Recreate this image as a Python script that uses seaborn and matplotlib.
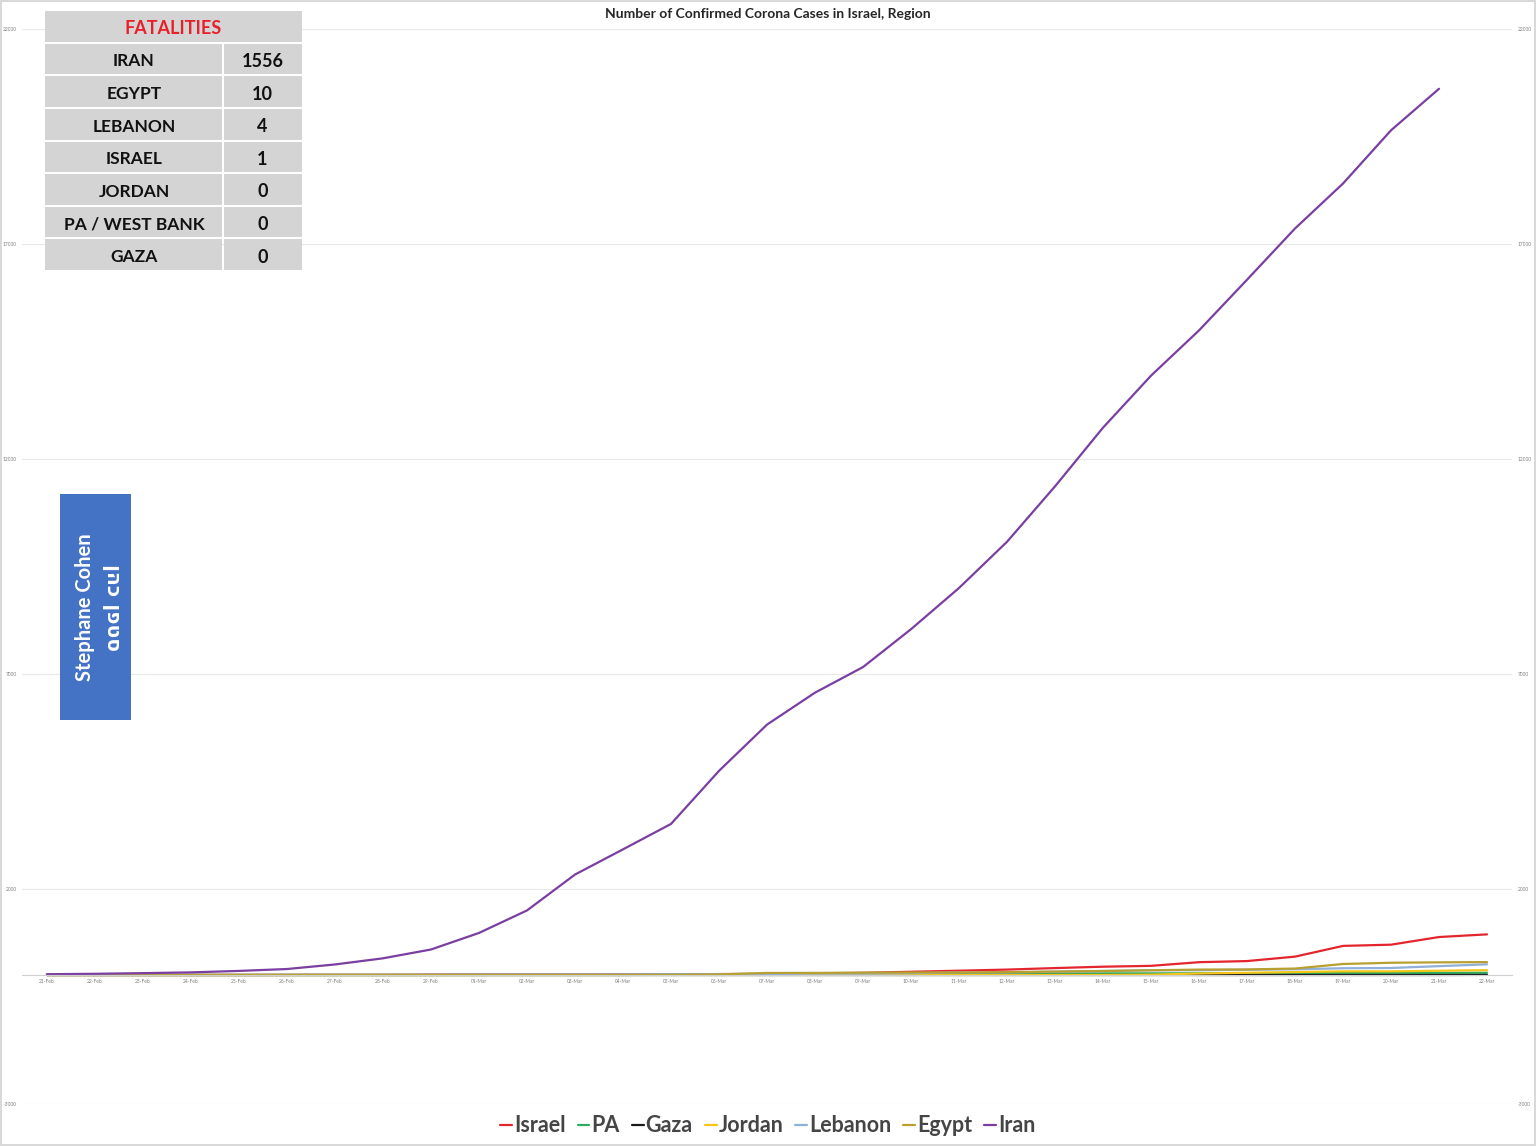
"""Confirmed corona cases in Israel and the region, 21-Feb to 22-Mar."""

import matplotlib.pyplot as plt
import numpy as np
import pandas as pd
import seaborn as sns
from matplotlib.patches import Rectangle

dates = [
    "21-Feb", "22-Feb", "23-Feb", "24-Feb", "25-Feb", "26-Feb", "27-Feb", "28-Feb", "29-Feb",
    "01-Mar", "02-Mar", "03-Mar", "04-Mar", "05-Mar", "06-Mar", "07-Mar", "08-Mar", "09-Mar",
    "10-Mar", "11-Mar", "12-Mar", "13-Mar", "14-Mar", "15-Mar", "16-Mar", "17-Mar", "18-Mar",
    "19-Mar", "20-Mar", "21-Mar", "22-Mar",
]
israel = [1, 1, 1, 1, 1, 2, 3, 3, 7, 10, 12, 12, 15, 17, 21, 25, 39, 50, 75, 100, 126, 161,
          193, 213, 298, 324, 427, 677, 705, 883, 945]
pa = [0, 0, 0, 0, 0, 0, 0, 0, 0, 0, 0, 0, 0, 7, 16, 19, 22, 25, 26, 30, 31, 35, 38, 38, 39,
      41, 44, 47, 48, 48, 52]
gaza = [0] * 30 + [2]
jordan = [0, 0, 0, 0, 0, 0, 0, 0, 0, 0, 1, 1, 1, 1, 1, 1, 1, 1, 1, 1, 1, 1, 1, 8, 34, 52,
          69, 85, 85, 99, 112]
lebanon = [1, 1, 1, 1, 1, 2, 2, 2, 4, 10, 13, 13, 13, 16, 22, 22, 32, 32, 41, 61, 61, 77, 93,
           110, 110, 120, 133, 157, 163, 206, 248]
egypt = [0, 0, 0, 0, 0, 0, 0, 0, 0, 2, 2, 2, 2, 3, 15, 48, 49, 55, 59, 59, 67, 80, 93, 110,
         126, 130, 150, 256, 285, 294, 300]
iran = [18, 28, 43, 61, 95, 139, 245, 388, 593, 978, 1501, 2336, 2922, 3513, 4747, 5823, 6566,
        7161, 8042, 9000, 10075, 11364, 12729, 13938, 14991, 16169, 17361, 18407, 19644, 20610,
        np.nan]

countries = ["Israel", "PA", "Gaza", "Jordan", "Lebanon", "Egypt", "Iran"]
colors = ["#E3262E", "#2FAE60", "#1A1A1A", "#F5C518", "#8FB0D8", "#B8A030", "#7A3FA0"]

fatality_countries = ["IRAN", "EGYPT", "LEBANON", "ISRAEL", "JORDAN", "PA / WEST BANK", "GAZA"]
fatality_counts = [1556, 10, 4, 1, 0, 0, 0]

y_ticks = [-3000, 2000, 7000, 12000, 17000, 22000]

series = [israel, pa, gaza, jordan, lebanon, egypt, iran]
df = pd.concat(
    [pd.DataFrame({"day": range(len(dates)), "cases": vals, "country": name})
     for name, vals in zip(countries, series)],
    ignore_index=True,
)

sns.set_style("white")
plt.rcParams["font.family"] = ["Lato", "DejaVu Sans"]

W, H = 1536, 1146
fig = plt.figure(figsize=(W / 100, H / 100), dpi=100)
fig.patch.set_edgecolor("#D9D9D9")
fig.patch.set_linewidth(1.5)

ax = fig.add_axes([22 / W, 1 - 1104 / H, 1490 / W, 1075 / H])
sns.lineplot(data=df, x="day", y="cases", hue="country", hue_order=countries,
             palette=colors, linewidth=1.6, ax=ax, legend=True)

ax.set_xlim(-0.52, len(dates) - 1 + 0.52)
ax.set_ylim(-3000, 22000)
ax.set_yticks(y_ticks)
ax.set_yticklabels([str(v) for v in y_ticks])
ax.set_xticks(range(len(dates)))
ax.set_xticklabels(dates)
ax.grid(axis="y", color="#E8E8E8", linewidth=0.8)
ax.set_axisbelow(True)
for side in ["top", "right", "left"]:
    ax.spines[side].set_visible(False)
ax.spines["bottom"].set_position(("data", 0))
ax.spines["bottom"].set_color("#D0D0D0")
ax.tick_params(axis="x", length=0, labelsize=3.5, labelcolor="#7F7F7F", pad=3)
ax.tick_params(axis="y", length=0, labelsize=3.5, labelcolor="#7F7F7F",
               labelleft=True, labelright=True, pad=4)
ax.set_xlabel("")
ax.set_ylabel("")

fig.text(0.5, 1 - 14 / H, "Number of Confirmed Corona Cases in Israel, Region",
         ha="center", va="center", fontsize=10, fontweight="bold", color="#262626")

handles, labels = ax.get_legend_handles_labels()
ax.legend_.remove()
fig.legend(handles, labels, loc="center", bbox_to_anchor=(0.5, 1 - 1126 / H), ncol=7,
           frameon=False, handlelength=0.55, handletextpad=0.1, columnspacing=0.55,
           prop={"size": 15.5, "weight": "bold"}, labelcolor="#454545")

# fatalities table
tab = fig.add_axes([45 / W, 1 - 272 / H, 257 / W, 261 / H])
tab.set_xlim(0, 257)
tab.set_ylim(261, 0)
tab.axis("off")
row_h = 261 / (len(fatality_countries) + 1)
col_split = 178
cell = "#D4D4D4"
tab.add_patch(Rectangle((0, 0), 257, row_h - 2, facecolor=cell, edgecolor="none"))
tab.text(128.5, row_h / 2 + 1.5, "FATALITIES", ha="center", va="center", fontsize=13,
         fontweight="bold", color="#E8202A")
for i, (name, count) in enumerate(zip(fatality_countries, fatality_counts)):
    y0 = (i + 1) * row_h
    tab.add_patch(Rectangle((0, y0), col_split - 1, row_h - 2, facecolor=cell, edgecolor="none"))
    tab.add_patch(Rectangle((col_split + 1, y0), 257 - col_split - 1, row_h - 2,
                            facecolor=cell, edgecolor="none"))
    tab.text(col_split / 2, y0 + row_h / 2 + 1.5, name, ha="center", va="center", fontsize=12.5,
             fontweight="bold", color="#111111")
    tab.text((col_split + 257) / 2, y0 + row_h / 2 + 1.5, str(count), ha="center", va="center",
             fontsize=13, fontweight="bold", color="#111111")

# author box
fig.patches.append(Rectangle((60 / W, 1 - 720 / H), 71 / W, 226 / H, facecolor="#4472C4",
                             edgecolor="none", transform=fig.transFigure, figure=fig))
fig.text(85 / W, 1 - 607 / H, "Stephane Cohen", rotation=90, ha="center", va="center",
         fontsize=14.5, fontweight="bold", color="white")
fig.text(111 / W, 1 - 607 / H, "ןהכ ןפטס", rotation=-90, ha="center", va="center",
         fontsize=14.5, fontweight="bold", color="white", family=["DejaVu Sans"])

fig.savefig("out.png", dpi=100)
